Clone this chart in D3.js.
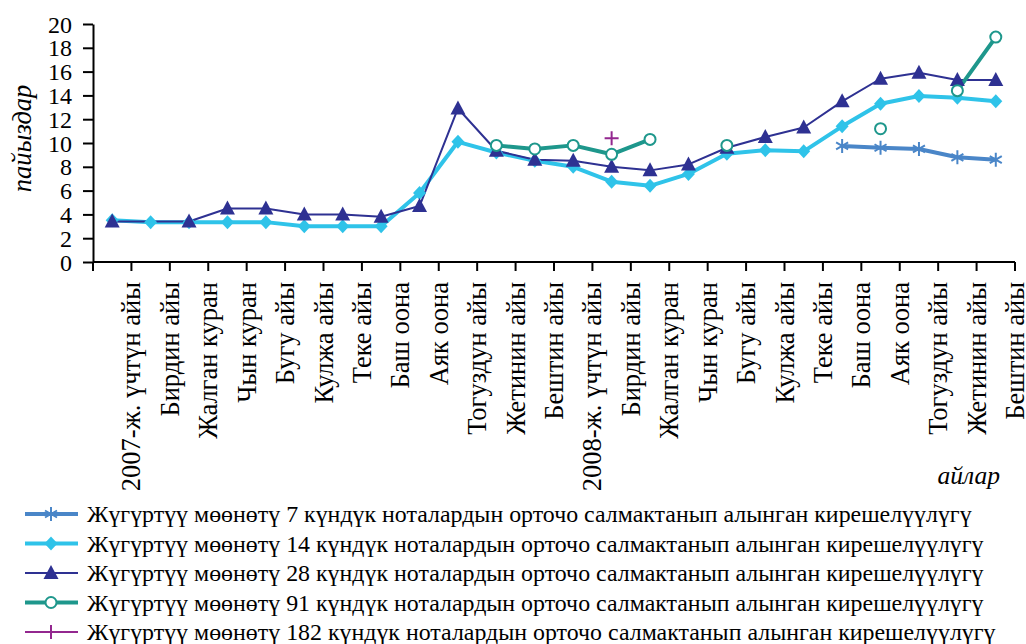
<!DOCTYPE html>
<html><head><meta charset="utf-8">
<script src="https://cdn.jsdelivr.net/npm/d3@7"></script>
<style>
html,body{margin:0;padding:0;background:#fff;}
svg text{font-family:"Liberation Serif","Times New Roman",Times,serif !important;}
</style></head>
<body>
<svg id="chart" width="1026" height="644"></svg>
<script>
const categories = ["2007-ж. үчтүн айы","Бирдин айы","Жалган куран","Чын куран","Бугу айы","Кулжа айы","Теке айы","Баш оона","Аяк оона","Тогуздун айы","Жетинин айы","Бештин айы",
  "2008-ж. үчтүн айы","Бирдин айы","Жалган куран","Чын куран","Бугу айы","Кулжа айы","Теке айы","Баш оона","Аяк оона","Тогуздун айы","Жетинин айы","Бештин айы"];
const yTicks = [0,2,4,6,8,10,12,14,16,18,20];
const s7   = [null,null,null,null,null,null,null,null,null,null,null,null,null,null,null,null,null,null,null,9.75,9.6,9.5,8.8,8.6];
const s14  = [3.5,3.35,3.35,3.35,3.35,3.0,3.0,3.0,5.8,10.1,9.2,8.5,8.0,6.75,6.4,7.4,9.1,9.4,9.3,11.4,13.3,13.95,13.8,13.5];
const s28  = [3.4,null,3.4,4.5,4.5,4.0,4.0,3.8,4.7,12.9,9.35,8.6,8.5,8.0,7.7,8.2,9.6,10.5,11.3,13.5,15.4,15.9,15.3,15.3];
const s91  = [null,null,null,null,null,null,null,null,null,null,9.8,9.5,9.8,9.05,10.3,null,9.8,null,null,null,11.2,null,14.4,18.9];
const s182 = [null,null,null,null,null,null,null,null,null,null,null,null,null,10.4,null,null,null,null,null,null,null,null,null,null];
const seriesNames = [
  "Жүгүртүү мөөнөтү 7 күндүк ноталардын орточо салмактанып алынган кирешелүүлүгү",
  "Жүгүртүү мөөнөтү 14 күндүк ноталардын орточо салмактанып алынган кирешелүүлүгү",
  "Жүгүртүү мөөнөтү 28 күндүк ноталардын орточо салмактанып алынган кирешелүүлүгү",
  "Жүгүртүү мөөнөтү 91 күндүк ноталардын орточо салмактанып алынган кирешелүүлүгү",
  "Жүгүртүү мөөнөтү 182 күндүк ноталардын орточо салмактанып алынган кирешелүүлүгү"];
const yTitle = "пайыздар";
const xTitle = "айлар";

const series = [
  {name: seriesNames[0], values: s7,   color: "#4a86c8", width: 4,   marker: "star",     connect: false},
  {name: seriesNames[1], values: s14,  color: "#2fc3e9", width: 4,   marker: "diamond",  connect: false},
  {name: seriesNames[2], values: s28,  color: "#2e3192", width: 2,   marker: "triangle", connect: true},
  {name: seriesNames[3], values: s91,  color: "#1e978c", width: 4,   marker: "circle",   connect: false},
  {name: seriesNames[4], values: s182, color: "#93278f", width: 2,   marker: "plus",     connect: false}
];

const svg = d3.select("#chart");
const x = d3.scaleBand().domain(d3.range(categories.length)).range([93, 1015]);
const y = d3.scaleLinear().domain([0, 20]).range([262, 24]);
const cx = i => x(i) + x.bandwidth() / 2;

function drawMarker(g, type, color) {
  if (type === "star") {
    g.append("path").attr("d", "M0,-7V7M-6,-3.5L6,3.5M-6,3.5L6,-3.5").attr("stroke", color).attr("stroke-width", 2).attr("fill", "none");
  } else if (type === "diamond") {
    g.append("path").attr("d", "M0,-7L6.5,0L0,7L-6.5,0Z").attr("fill", color);
  } else if (type === "triangle") {
    g.append("path").attr("d", "M0,-8L7.5,6L-7.5,6Z").attr("fill", color);
  } else if (type === "circle") {
    g.append("circle").attr("r", 5.5).attr("fill", "#fff").attr("stroke", color).attr("stroke-width", 2);
  } else if (type === "plus") {
    g.append("path").attr("d", "M0,-7V7M-7,0H7").attr("stroke", color).attr("stroke-width", 2).attr("fill", "none");
  }
}

// axes
const yAxis = d3.axisLeft(y).tickValues(yTicks).tickSize(10).tickSizeOuter(0).tickPadding(11);
const yg = svg.append("g").attr("transform", "translate(93,0)").call(yAxis);
yg.select(".domain").attr("stroke", "#000").attr("stroke-width", 2);
yg.selectAll(".tick line").attr("stroke", "#000").attr("stroke-width", 2);
yg.selectAll(".tick text").attr("font-size", 24).attr("fill", "#000").attr("dy", "0.34em");

const xBound = d3.range(categories.length + 1).map(i => i === categories.length ? 1015 : x(i));
const xg = svg.append("g");
xg.append("line").attr("x1", 93).attr("x2", 1015).attr("y1", 262).attr("y2", 262).attr("stroke", "#000").attr("stroke-width", 2);
xg.selectAll("line.tk").data(xBound).join("line").attr("class", "tk")
  .attr("x1", d => d).attr("x2", d => d).attr("y1", 262).attr("y2", 271).attr("stroke", "#000").attr("stroke-width", 2);
xg.selectAll("text.lbl").data(categories).join("text").attr("class", "lbl")
  .attr("transform", (d, i) => `translate(${x(i) + x.bandwidth() + 9},282) rotate(-90)`)
  .attr("text-anchor", "end").attr("font-size", 26.5).attr("fill", "#000").text(d => d);

// axis titles
svg.append("text").attr("transform", "translate(31,138.5) rotate(-90)").attr("text-anchor", "middle")
  .attr("font-size", 26.5).attr("font-style", "italic").text(yTitle);
svg.append("text").attr("x", 1000).attr("y", 484).attr("text-anchor", "end")
  .attr("font-size", 25.5).attr("font-style", "italic").text(xTitle);

// lines
const lineGen = d3.line().defined(d => d.v != null).x(d => cx(d.i)).y(d => y(d.v));
series.forEach(s => {
  let pts = s.values.map((v, i) => ({i, v}));
  if (s.connect) pts = pts.filter(p => p.v != null);
  svg.append("path").datum(pts).attr("d", lineGen).attr("fill", "none")
    .attr("stroke", s.color).attr("stroke-width", s.width).attr("stroke-linejoin", "round");
});
// markers
series.forEach(s => {
  s.values.forEach((v, i) => {
    if (v == null) return;
    const g = svg.append("g").attr("transform", `translate(${cx(i)},${y(v)})`);
    drawMarker(g, s.marker, s.color);
  });
});

// legend
series.forEach((s, k) => {
  const yy = 514 + k * 29.5;
  const g = svg.append("g");
  g.append("line").attr("x1", 25).attr("x2", 78).attr("y1", yy).attr("y2", yy).attr("stroke", s.color).attr("stroke-width", s.width);
  drawMarker(g.append("g").attr("transform", `translate(51,${yy})`), s.marker, s.color);
  g.append("text").attr("x", 87).attr("y", yy + 8).attr("font-size", 23.9).attr("fill", "#000").text(s.name);
});
</script>
</body></html>
